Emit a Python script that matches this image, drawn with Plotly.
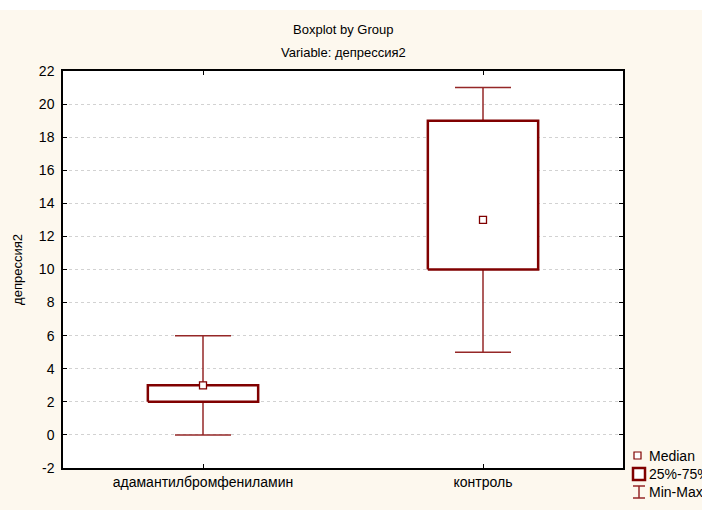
import plotly.graph_objects as go

categories = ["адамантилбромфениламин", "контроль"]
mins = [0, 5]
q1s = [2, 10]
medians = [3, 13]
q3s = [3, 19]
maxs = [6, 21]
y_ticks = list(range(-2, 23, 2))

BOX_HALF = 0.197
CAP_HALF = 0.1
DARK = "#800000"
WHISK = "#952727"
CREAM = "#FDF8EE"

fig = go.Figure()

for i, cat in enumerate(categories):
    # whiskers
    fig.add_trace(go.Scatter(
        x=[i, i, None, i, i, None, i - CAP_HALF, i + CAP_HALF, None, i - CAP_HALF, i + CAP_HALF],
        y=[q3s[i], maxs[i], None, mins[i], q1s[i], None, maxs[i], maxs[i], None, mins[i], mins[i]],
        mode="lines", line=dict(color=WHISK, width=1.5), showlegend=False, hoverinfo="skip"))
    # box
    fig.add_trace(go.Scatter(
        x=[i - BOX_HALF, i + BOX_HALF, i + BOX_HALF, i - BOX_HALF, i - BOX_HALF],
        y=[q1s[i], q1s[i], q3s[i], q3s[i], q1s[i]],
        mode="lines", fill="toself", fillcolor="white",
        line=dict(color=DARK, width=2.5), showlegend=False, hoverinfo="skip"))
    # median
    fig.add_trace(go.Scatter(
        x=[i], y=[medians[i]], mode="markers",
        marker=dict(symbol="square", size=7, color="white", line=dict(color=DARK, width=1.3)),
        showlegend=False, hoverinfo="skip"))

L, R, T, B = 63, 79, 71, 42
W, H = 702, 510
PW, PH = W - L - R, H - T - B

def px(xp):
    return (xp - L) / PW

def py(yp):
    return (H - B - yp) / PH

shapes = [
    dict(type="rect", xref="paper", yref="paper", x0=px(-5), x1=px(710), y0=py(10), y1=py(-5),
         fillcolor="white", line=dict(width=0), layer="below"),
    # legend icons
    dict(type="rect", xref="paper", yref="paper", x0=px(634), x1=px(641), y0=py(459), y1=py(452),
         fillcolor="white", line=dict(color=DARK, width=1.2)),
    dict(type="rect", xref="paper", yref="paper", x0=px(633), x1=px(645), y0=py(480), y1=py(468),
         fillcolor="white", line=dict(color=DARK, width=2.5)),
    dict(type="line", xref="paper", yref="paper", x0=px(633), x1=px(645), y0=py(486), y1=py(486),
         line=dict(color=WHISK, width=1.5)),
    dict(type="line", xref="paper", yref="paper", x0=px(639), x1=px(639), y0=py(486), y1=py(498),
         line=dict(color=WHISK, width=1.5)),
    dict(type="line", xref="paper", yref="paper", x0=px(633), x1=px(645), y0=py(498), y1=py(498),
         line=dict(color=WHISK, width=1.5)),
]

font = "Liberation Sans, Arial, sans-serif"
legend_labels = ["Median", "25%-75%", "Min-Max"]
legend_y = [456, 474, 492]
annotations = [
    dict(text="Boxplot by Group", xref="paper", yref="paper", x=0.5, y=py(29), showarrow=False,
         font=dict(size=13, color="black", family=font), xanchor="center", yanchor="middle"),
    dict(text="Variable: депрессия2", xref="paper", yref="paper", x=0.5, y=py(52), showarrow=False,
         font=dict(size=13, color="black", family=font), xanchor="center", yanchor="middle"),
]
for lab, yy in zip(legend_labels, legend_y):
    annotations.append(dict(text=lab, xref="paper", yref="paper", x=px(647), y=py(yy), showarrow=False,
                            font=dict(size=14, color="black", family=font), xanchor="left", yanchor="middle"))

fig.update_layout(
    width=W, height=H,
    margin=dict(l=L, r=R, t=T, b=B, pad=0),
    paper_bgcolor=CREAM, plot_bgcolor="white",
    showlegend=False,
    shapes=shapes, annotations=annotations,
    font=dict(family=font, size=13, color="black"),
)
fig.update_xaxes(
    range=[-0.5, 1.5], tickvals=[0, 1], ticktext=categories,
    showgrid=False, zeroline=False, showline=True, linecolor="black", linewidth=1.5,
    mirror="ticks", ticks="inside", ticklen=4, tickcolor="black",
    tickfont=dict(size=14, family=font, color="black"),
)
fig.update_yaxes(
    range=[-2, 22], tickvals=y_ticks, ticktext=[str(v) for v in y_ticks],
    showgrid=True, gridcolor="#D2D2D2", griddash="dot", gridwidth=1,
    zeroline=False, showline=True, linecolor="black", linewidth=1.5,
    mirror="ticks", ticks="inside", ticklen=4, tickcolor="black",
    ticklabelstandoff=4,
    tickfont=dict(size=14, family=font, color="black"),
    title=dict(text="депрессия2", font=dict(size=13, family=font, color="black"), standoff=13),
)

fig.write_html(
    "out.html",
    config={"displayModeBar": False},
    post_script="document.body.style.margin='0px';document.body.style.overflow='hidden';",
)
